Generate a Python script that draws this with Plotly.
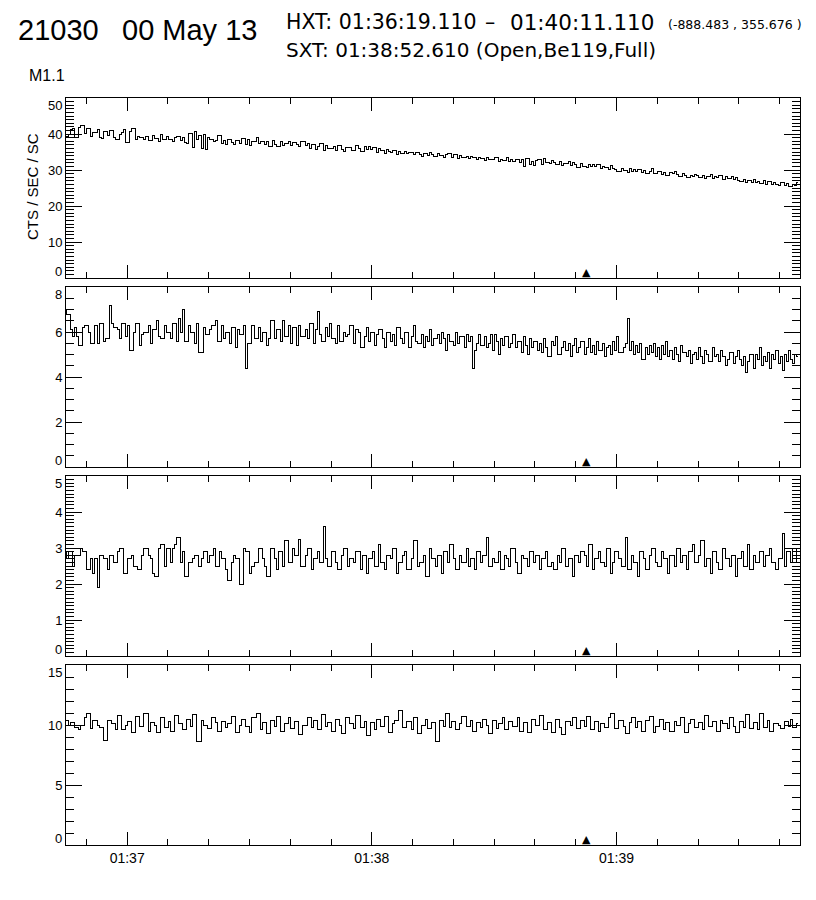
import pandas as pd
import plotly.graph_objects as go
from plotly.subplots import make_subplots

# ---------------- data (0.5 s bins) ----------------
BIN_START = "2000-05-13 01:36:44.610"
BIN_MS = 500
SXT_TIME = "2000-05-13 01:38:52.610"
X_RANGE = ["2000-05-13 01:36:45", "2000-05-13 01:39:45"]

p1 = [
    39.2,39.2,40.0,41.2,41.5,38.9,38.9,41.8,42.4,42.4,
    40.2,41.6,41.6,39.4,40.3,40.3,41.3,39.0,38.8,40.7,
    40.7,39.5,40.9,40.9,39.1,38.6,38.6,39.8,40.3,41.2,
    37.6,37.6,40.8,41.5,41.5,38.4,39.3,39.0,39.0,38.5,
    39.2,38.1,38.1,39.6,38.7,38.7,37.9,39.8,38.5,38.5,
    39.2,38.6,38.6,37.8,38.9,39.3,39.3,38.2,38.9,37.6,
    37.5,40.2,40.2,36.2,40.8,38.4,39.5,35.9,39.9,35.6,
    39.0,38.6,38.6,37.8,38.3,39.6,39.6,37.5,38.1,37.2,
    38.4,38.4,37.7,37.0,38.2,38.2,37.4,38.7,38.7,37.1,
    38.5,36.8,37.9,37.9,38.9,37.3,38.0,38.0,37.1,37.9,
    36.6,36.6,38.3,37.2,36.5,36.5,37.8,36.9,37.4,37.4,
    38.0,36.8,37.6,37.6,37.2,36.4,37.9,37.9,36.7,37.3,
    36.1,37.0,37.0,35.7,36.6,37.3,37.3,35.5,36.8,36.0,
    35.9,35.9,36.5,35.4,36.9,36.9,35.8,35.2,36.3,36.3,
    36.2,35.5,35.5,36.8,35.9,35.1,35.1,36.6,35.7,36.4,
    35.6,36.3,36.3,35.0,35.9,35.5,35.5,34.7,35.8,35.2,
    34.8,35.4,35.4,34.3,35.1,34.6,34.6,35.2,34.5,34.9,
    34.9,34.2,35.0,35.0,34.4,33.8,34.7,34.7,34.1,34.8,
    34.3,33.7,33.7,34.6,34.0,34.0,33.5,34.4,34.7,34.7,
    33.6,34.2,34.2,33.1,33.9,33.4,33.4,33.7,33.2,33.8,
    33.4,33.4,32.9,33.6,33.1,33.1,32.6,33.5,32.8,32.8,
    32.8,33.5,33.5,32.4,33.0,32.6,32.6,33.4,32.3,32.9,
    32.4,33.0,33.0,32.1,32.8,30.9,33.3,33.3,31.6,32.5,
    31.3,32.6,32.9,32.9,31.5,33.1,32.2,32.2,31.8,32.6,
    32.0,31.6,31.6,32.4,31.2,31.9,31.9,32.5,31.3,32.1,
    31.5,30.8,30.8,31.8,31.1,31.1,30.6,31.6,30.9,31.4,
    30.9,31.5,31.5,30.3,31.0,30.7,30.7,30.1,31.2,30.4,
    30.2,29.6,29.6,30.5,29.9,29.9,29.4,30.3,29.7,30.1,
    29.5,30.1,30.1,29.2,29.8,28.9,28.9,29.6,30.3,29.0,
    29.1,29.7,29.7,28.8,29.4,28.6,28.6,29.2,28.9,29.5,
    28.7,28.2,28.2,28.9,28.4,27.9,27.9,28.6,28.1,28.8,
    28.5,27.9,27.9,28.6,27.6,28.2,28.2,28.7,27.7,28.3,
    27.8,28.4,28.4,27.4,28.1,27.6,27.6,28.2,27.3,27.9,
    27.2,26.8,26.8,27.5,26.5,27.1,27.1,26.6,27.3,26.4,
    26.8,26.3,26.3,27.0,26.1,26.7,26.7,26.0,26.6,25.9,
    25.8,26.6,26.6,25.7,26.3,25.5,25.5,26.1,25.6,26.4,
]

p2 = [
    7.0,6.8,6.8,6.1,5.8,6.2,5.8,5.4,5.4,6.2,
    6.3,6.3,6.0,5.5,5.5,6.3,5.5,6.4,6.4,5.6,
    5.7,5.7,7.2,6.4,6.2,6.2,6.1,5.7,6.4,6.4,
    5.8,6.3,5.2,5.2,6.0,6.4,6.4,5.4,5.9,6.0,
    6.0,6.3,5.5,6.1,6.1,6.5,5.8,5.7,5.7,6.3,
    6.0,6.0,5.7,6.4,6.4,5.6,6.6,6.0,7.0,5.6,
    5.6,6.3,6.0,6.0,5.5,6.4,5.1,5.1,6.2,5.9,
    5.9,6.1,6.3,6.3,6.5,5.6,5.6,6.3,5.7,6.0,
    6.0,5.5,6.2,6.2,5.3,6.1,5.9,5.9,6.3,4.4,
    5.5,5.5,6.3,5.7,5.7,6.2,5.6,6.0,6.0,5.4,
    5.7,6.5,6.5,5.7,6.1,6.1,5.6,6.5,5.8,5.8,
    6.3,5.5,6.2,6.2,5.4,6.3,5.8,5.8,6.1,5.7,
    6.4,6.4,5.5,6.1,6.9,5.9,5.6,5.6,6.2,5.8,
    6.4,5.7,5.7,5.5,6.3,5.6,5.6,6.0,5.8,5.9,
    6.3,6.3,5.5,6.1,6.0,5.3,5.3,5.8,6.2,5.6,
    6.0,6.0,5.4,5.9,6.1,6.1,5.7,5.3,6.0,6.0,
    5.6,5.9,5.4,6.2,6.2,5.7,5.5,6.0,6.0,5.3,
    5.8,6.3,5.6,5.5,5.5,5.9,5.3,5.8,5.6,6.1,
    5.4,5.7,5.7,5.9,5.5,6.0,5.7,5.2,5.9,5.6,
    5.6,5.4,6.0,5.5,5.8,5.8,5.3,5.9,5.6,5.8,
    4.4,5.2,5.5,5.9,5.4,5.4,5.8,5.3,5.5,5.9,
    5.2,5.9,5.6,5.0,5.7,5.4,5.8,5.8,5.3,5.5,
    5.9,5.3,5.6,5.6,5.1,5.8,5.4,5.0,5.7,5.3,
    5.6,5.6,5.2,5.5,5.1,5.7,5.3,4.9,4.9,5.6,
    5.4,5.8,5.0,5.0,5.3,5.6,5.2,5.5,4.9,5.4,
    5.7,5.1,5.3,5.6,5.6,5.0,5.3,5.7,5.1,5.4,
    5.0,5.6,5.2,5.2,5.5,4.9,5.3,5.4,5.0,5.6,
    5.2,5.8,5.1,5.1,5.3,5.5,6.6,5.2,5.6,5.0,
    5.4,5.1,5.5,4.8,4.8,5.3,5.0,5.4,5.1,5.5,
    4.9,5.3,4.8,5.4,5.0,5.6,4.9,5.2,4.8,5.3,
    5.0,4.7,5.4,5.1,5.1,4.9,5.2,4.6,5.0,5.1,
    4.8,5.3,4.9,4.6,5.2,5.0,4.7,4.7,5.3,4.9,
    5.0,4.7,5.2,4.9,4.5,4.8,5.1,5.1,4.6,4.9,
    5.2,4.8,4.5,4.9,4.2,4.7,5.0,5.0,4.4,5.0,
    4.8,5.3,4.5,4.9,4.7,5.1,4.4,5.0,4.8,5.2,
    4.6,4.9,4.3,5.0,4.7,5.2,4.8,4.6,5.0,4.9,
]

p3 = [
    2.9,2.7,2.9,2.9,2.5,2.8,2.8,2.8,3.0,2.9,
    2.9,2.4,2.4,2.7,2.3,2.7,1.9,2.8,2.8,2.7,
    2.7,2.4,2.8,2.8,2.6,2.6,2.9,3.0,3.0,2.3,
    2.3,2.7,2.7,2.8,2.5,2.5,2.4,2.4,2.8,3.0,
    3.0,2.8,2.7,2.3,2.2,2.2,3.0,3.1,3.1,2.5,
    3.0,3.0,2.6,3.0,3.1,3.3,3.3,2.6,2.9,2.2,
    2.2,2.6,2.6,2.7,2.8,2.8,2.5,2.7,2.9,2.9,
    2.6,2.8,2.8,3.0,2.5,2.5,2.9,2.7,2.7,2.4,
    2.1,2.1,2.6,2.8,2.7,2.7,2.0,2.0,3.0,2.9,
    2.9,2.3,2.5,2.6,2.6,3.0,3.0,2.7,2.5,2.2,
    2.2,3.0,3.0,2.7,2.4,2.9,2.9,2.5,3.2,3.2,
    2.6,2.6,3.0,2.8,2.8,3.25,2.5,2.5,2.8,3.0,
    3.0,2.4,2.7,2.7,2.9,2.6,2.6,3.6,2.7,2.5,
    2.5,2.9,2.9,2.6,2.4,2.4,2.8,3.0,3.0,2.5,
    2.7,2.7,2.6,2.9,2.9,2.4,2.8,2.8,2.3,2.7,
    2.7,2.9,2.5,2.5,3.1,2.6,2.6,2.4,2.8,2.8,
    2.7,3.0,3.0,2.3,2.6,2.6,2.8,2.9,2.4,2.4,
    2.7,3.2,3.2,2.5,2.6,2.6,2.8,2.2,2.2,3.0,
    2.7,2.7,2.5,2.8,2.8,2.3,2.9,2.9,2.6,3.1,
    3.1,2.7,2.4,2.4,2.8,2.6,2.6,3.0,2.5,2.7,
    2.7,2.4,2.9,2.9,2.6,2.8,2.8,3.3,2.5,2.5,
    2.7,2.6,2.6,2.9,2.4,2.4,2.8,2.7,2.5,3.0,
    3.0,2.6,2.3,2.3,2.8,2.7,2.7,2.5,2.9,2.9,
    2.6,2.8,2.8,2.4,2.7,2.7,2.9,2.5,2.5,2.6,
    2.4,2.4,2.8,2.6,3.0,3.0,2.5,2.7,2.7,2.2,
    2.8,2.8,2.6,2.9,2.9,2.8,2.5,3.1,3.1,2.4,
    2.7,2.7,2.9,2.6,2.6,2.5,3.0,3.0,2.3,2.6,
    2.9,2.9,2.7,2.5,2.5,3.3,2.4,2.4,2.8,2.6,
    2.6,2.2,2.9,2.9,2.7,2.4,2.4,2.8,3.0,3.0,
    2.6,2.5,2.5,2.9,2.7,2.7,2.3,2.8,2.8,2.5,
    3.0,3.0,2.6,2.8,2.8,2.4,2.9,2.9,3.1,2.6,
    2.6,2.8,3.2,3.2,2.5,2.7,2.7,2.3,2.9,2.9,
    2.6,2.4,2.4,3.0,2.7,2.7,2.5,2.8,2.8,2.2,
    2.7,2.7,2.9,2.5,2.5,3.1,2.4,2.4,2.8,2.6,
    2.6,2.9,2.9,2.5,2.8,2.8,3.0,2.6,2.6,2.4,
    2.7,2.7,3.4,2.5,2.9,2.9,2.6,3.0,3.0,2.6,
]

p4 = [
    10.4,10.4,10.0,10.2,10.2,9.8,9.8,9.6,10.0,10.0,
    10.6,11.0,11.0,9.7,10.4,10.4,10.0,9.8,9.8,8.7,
    8.7,10.4,10.4,10.1,10.1,9.6,10.8,10.8,9.6,9.6,
    10.0,10.3,10.3,9.4,9.4,10.7,10.7,9.9,9.9,11.0,
    11.0,9.5,10.2,10.2,10.0,9.4,9.4,10.6,10.6,9.8,
    9.8,10.3,9.5,9.5,10.8,10.8,10.1,10.1,9.6,9.6,
    10.5,10.5,9.9,10.9,10.9,8.6,8.6,10.4,10.0,10.0,
    9.7,9.7,10.6,10.6,10.2,9.5,9.5,10.3,10.3,9.8,
    10.1,10.1,10.7,10.7,9.4,9.4,10.0,10.5,10.5,9.9,
    9.9,9.4,10.6,10.6,11.0,11.0,9.6,10.2,10.2,9.3,
    9.3,10.4,10.4,9.9,10.7,10.7,9.5,9.5,10.1,10.1,
    10.6,9.7,9.7,10.3,10.3,9.2,9.2,10.0,10.0,10.6,
    10.6,9.8,10.4,10.4,9.6,9.6,10.9,10.9,9.9,10.2,
    10.2,9.5,9.5,10.5,10.5,10.0,9.3,9.3,10.6,10.6,
    10.1,10.1,9.7,10.8,10.8,9.8,9.8,10.3,9.1,9.1,
    10.2,10.2,9.6,10.5,10.5,9.9,9.9,10.7,10.7,9.4,
    9.4,10.1,10.4,10.4,11.2,11.2,9.8,9.8,10.3,10.3,
    9.6,10.6,10.6,9.3,9.3,10.0,10.0,10.5,9.7,9.7,
    10.2,10.2,8.6,8.6,10.4,10.4,9.9,11.0,11.0,9.8,
    10.3,10.3,9.6,9.6,10.1,10.7,10.7,9.9,9.9,10.4,
    9.5,9.5,10.2,10.2,9.8,10.5,10.5,10.0,9.3,9.3,
    10.4,10.4,9.7,10.1,10.1,10.6,9.6,9.6,10.3,10.3,
    9.9,9.9,10.6,9.5,9.5,10.2,10.2,9.4,9.4,10.5,
    10.5,10.0,10.0,10.8,10.8,9.6,9.6,10.2,10.2,9.4,
    9.4,10.5,10.5,9.8,9.2,9.2,10.3,10.3,10.0,10.6,
    10.6,9.7,9.7,10.4,10.4,9.9,10.7,10.7,9.6,9.6,
    10.3,10.3,9.5,10.1,10.1,9.8,9.8,10.6,11.0,11.0,
    9.7,9.7,10.4,10.4,9.9,9.3,9.3,10.2,10.6,10.6,
    9.8,10.3,10.3,9.5,9.5,10.4,10.4,10.7,10.7,9.4,
    9.9,9.9,10.5,10.5,9.6,10.2,10.2,9.5,9.5,10.3,
    10.0,10.0,10.6,10.6,9.4,9.4,10.1,10.5,10.5,9.8,
    9.8,10.2,10.2,9.6,10.8,10.8,9.9,9.9,10.3,10.3,
    9.5,9.5,10.4,10.1,10.1,9.7,10.6,10.6,9.9,9.4,
    9.4,10.3,10.3,9.8,10.9,10.9,9.7,9.7,10.2,10.2,
    9.6,11.0,11.0,9.8,9.8,10.4,9.5,9.5,10.1,10.1,
    10.0,9.7,9.7,10.3,10.3,9.9,10.5,9.8,9.8,10.1,
]

series = [p1, p2, p3, p4]
y_ranges = [[0, 50], [0, 8], [0, 5], [0, 15]]
y_dticks = [10, 2, 1, 5]
y_minor = [1, 0.5, 0.1, 1]

# ---------------- figure ----------------
FONT = "Liberation Sans"
FONT2 = "DejaVu Sans"
OFF = 8                      # page body margin of the html file
W, H = 808, 892
L, R, T, B = 58, 16, 90, 55
PW, PH = W - L - R, H - T - B


def px_x(px):
    return (px - OFF - L) / PW


def px_y(py):
    return (H - B - (py - OFF)) / PH


fig = make_subplots(rows=4, cols=1, shared_xaxes=True, vertical_spacing=9 / PH)

for i, vals in enumerate(series):
    edges = pd.date_range(BIN_START, periods=len(vals) + 1, freq=f"{BIN_MS}ms")
    fig.add_trace(
        go.Scatter(
            x=edges,
            y=list(vals) + [vals[-1]],
            mode="lines",
            line=dict(shape="hv", color="black", width=1),
            hoverinfo="skip",
        ),
        row=i + 1, col=1,
    )

annotations = []

for i in range(4):
    fig.update_xaxes(
        type="date", range=X_RANGE,
        showline=True, linecolor="black", linewidth=1, mirror="ticks",
        ticks="inside", ticklen=13, tickwidth=1, tickcolor="black",
        tick0="2000-05-13 01:37:00", dtick=60000, tickformat="%H:%M",
        minor=dict(ticks="inside", ticklen=6, tickwidth=1, tickcolor="black",
                   dtick=10000, tick0="2000-05-13 01:37:00", showgrid=False),
        showgrid=False, zeroline=False,
        tickfont=dict(family=FONT, size=14, color="black"),
        row=i + 1, col=1,
    )
    lo, hi = y_ranges[i]
    tv = list(range(lo, hi + 1, y_dticks[i]))
    tt = [str(v) if lo < v < hi else "" for v in tv]
    fig.update_yaxes(
        range=y_ranges[i], tickvals=tv, ticktext=tt,
        showline=True, linecolor="black", linewidth=1, mirror="ticks",
        ticks="inside", ticklen=16, tickwidth=1, tickcolor="black",
        minor=dict(ticks="inside", ticklen=8, tickwidth=1, tickcolor="black",
                   dtick=y_minor[i], tick0=0, showgrid=False),
        showgrid=False, zeroline=False,
        tickfont=dict(family=FONT, size=13, color="black"),
        row=i + 1, col=1,
    )
    yr = "y domain" if i == 0 else f"y{i+1} domain"
    # end labels kept inside the panel, as in the reference
    annotations.append(dict(
        text=str(hi), x=0, y=1, xref="paper", yref=yr, showarrow=False,
        xanchor="right", yanchor="top", xshift=-2, yshift=2,
        font=dict(family=FONT, size=13, color="black"),
    ))
    annotations.append(dict(
        text=str(lo), x=0, y=0, xref="paper", yref=yr, showarrow=False,
        xanchor="right", yanchor="bottom", xshift=-2, yshift=-3,
        font=dict(family=FONT, size=13, color="black"),
    ))
    # SXT time marker
    xr = "x" if i == 0 else f"x{i+1}"
    annotations.append(dict(
        x=SXT_TIME, y=0, xref=xr, yref=yr, text="▲", showarrow=False,
        xanchor="center", yanchor="bottom", yshift=-3,
        font=dict(family=FONT2, size=11, color="black"),
    ))


def label(text, x, y, size, family=FONT, anchor="left", angle=0):
    annotations.append(dict(
        text=text, x=px_x(x), y=px_y(y), xref="paper", yref="paper",
        showarrow=False, xanchor=anchor, yanchor="middle", textangle=angle,
        font=dict(family=family, size=size, color="black"),
    ))


label("21030", 16, 30, 29)
label("00 May 13", 120, 30, 29)
label("HXT: 01:36:19.110", 284, 22, 20.5, family=FONT2)
label("–", 490, 22, 20.5, family=FONT2, anchor="center")
label("01:40:11.110", 508, 22, 21.5, family=FONT2)
label("(-888.483 , 355.676 )", 666, 25, 12.5, family=FONT2)
label("SXT: 01:38:52.610 (Open,Be119,Full)", 284, 50, 20, family=FONT2)
label("M1.1", 27, 75, 16)
label("CTS / SEC / SC", 32, 187, 15, anchor="center", angle=-90)

fig.update_layout(
    width=W, height=H,
    margin=dict(l=L, r=R, t=T, b=B),
    paper_bgcolor="white", plot_bgcolor="white",
    showlegend=False,
    font=dict(family=FONT, color="black"),
    annotations=annotations,
)

crisp = (
    "document.querySelectorAll('.scatterlayer path.js-line')"
    ".forEach(function(p){p.style.shapeRendering='crispEdges';});"
)
fig.write_html("out.html", post_script=crisp)
